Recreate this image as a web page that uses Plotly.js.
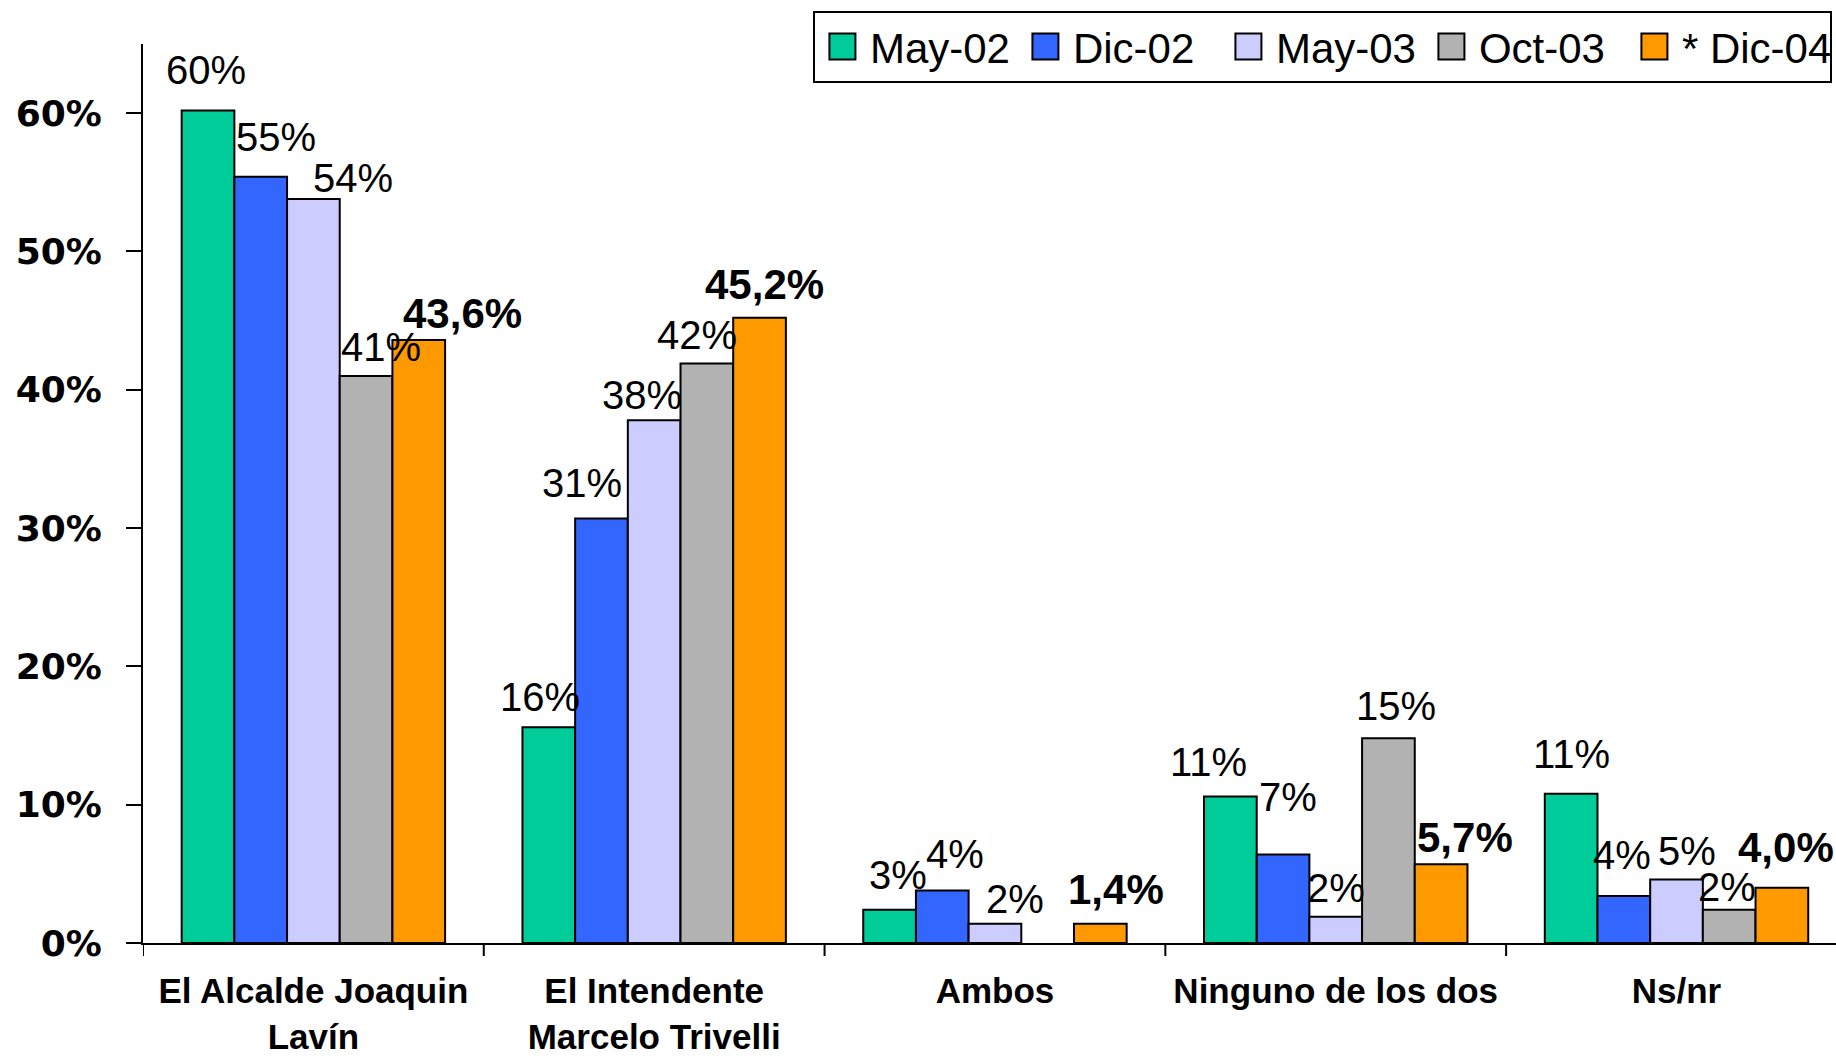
<!DOCTYPE html>
<html>
<head>
<meta charset="utf-8">
<script src="https://cdn.plot.ly/plotly-3.0.1.min.js"></script>
<style>
  html, body { margin: 0; padding: 0; background: #ffffff; }
  #chart { width: 1836px; height: 1056px; }
</style>
</head>
<body>
<div id="chart"></div>
<script>
// ---- Data ----
const categories = ["El Alcalde Joaquin<br>Lavín", "El Intendente<br>Marcelo Trivelli", "Ambos", "Ninguno de los dos", "Ns/nr"];
const seriesNames = ["May-02", "Dic-02", "May-03", "Oct-03", "* Dic-04"];

const may02 = [60.2, 15.6, 2.4, 10.6, 10.8];
const dic02 = [55.4, 30.7, 3.8, 6.4, 3.4];
const may03 = [53.8, 37.8, 1.4, 1.9, 4.6];
const oct03 = [41.0, 41.9, null, 14.8, 2.4];
const dic04 = [43.6, 45.2, 1.4, 5.7, 4.0];

const may02Labels = ["60%", "16%", "3%", "11%", "11%"];
const dic02Labels = ["55%", "31%", "4%", "7%", "4%"];
const may03Labels = ["54%", "38%", "2%", "2%", "5%"];
const oct03Labels = ["41%", "42%", "", "15%", "2%"];
const dic04Labels = ["43,6%", "45,2%", "1,4%", "5,7%", "4,0%"];

const yTickValues = [0, 10, 20, 30, 40, 50, 60];

// ---- Styling ----
const colors = ["#00CC99", "#3366FF", "#CCCCFF", "#B2B2B2", "#FF9900"];
const boldLabels = [false, false, false, false, true];
// manual label nudges (px) relative to the top-centre of each bar, as in the original chart
const nudgeX = [
  [-2, -9, 8, -22, 0],
  [15, -19, 13, 5, -2],
  [40, -12, 20, 0, 10],
  [15, -10, 0, 8, -2],
  [44, 5, 16, 24, 4]
];
const nudgeY = [
  [40, 30, 35, 34, 40],
  [40, 35, 36, 57, 41],
  [21, 25, 25, 29, 28],
  [29, 28, 0, 32, 23],
  [26, 33, 34, 27, 40]
];

const values = [may02, dic02, may03, oct03, dic04];
const labels = [may02Labels, dic02Labels, may03Labels, oct03Labels, dic04Labels];
const bargap = 0.227;
const nSeries = values.length;
const barW = (1 - bargap) / nSeries;

const traces = values.map((vals, i) => ({
  type: "bar",
  name: seriesNames[i],
  x: categories.map((c, j) => j),
  y: vals,
  marker: { color: colors[i], line: { color: "#000000", width: 2 } },
  hoverinfo: "skip"
}));

const annotations = [];
values.forEach((vals, i) => {
  vals.forEach((v, j) => {
    if (v === null || labels[i][j] === "") return;
    annotations.push({
      xref: "x", yref: "y",
      x: j + (i - (nSeries - 1) / 2) * barW,
      y: v,
      text: labels[i][j],
      showarrow: false,
      xanchor: "center", yanchor: "middle",
      xshift: nudgeX[i][j],
      yshift: nudgeY[i][j],
      font: {
        family: "Liberation Sans, Arial, sans-serif",
        size: boldLabels[i] ? 42 : 40,
        color: "#000000",
        weight: boldLabels[i] ? 700 : 400
      }
    });
  });
});

const layout = {
  width: 1836,
  height: 1056,
  paper_bgcolor: "#ffffff",
  plot_bgcolor: "#ffffff",
  margin: { l: 143, r: 0, t: 44, b: 113, pad: 0 },
  barmode: "group",
  bargap: bargap,
  bargroupgap: 0,
  showlegend: true,
  legend: {
    orientation: "h",
    x: 0.3957, xanchor: "left",
    y: 1.037, yanchor: "top",
    bgcolor: "#ffffff",
    bordercolor: "#000000",
    borderwidth: 2,
    itemwidth: 45,
    entrywidthmode: "pixels",
    entrywidth: 143,
    font: { family: "Liberation Sans, Arial, sans-serif", size: 42, color: "#000000" },
    traceorder: "normal"
  },
  xaxis: {
    type: "linear",
    range: [-0.5, 4.468],
    tickmode: "array",
    tickvals: categories.map((c, j) => j),
    ticktext: categories,
    showline: true, linecolor: "#000000", linewidth: 2,
    showgrid: false, zeroline: false,
    ticks: "",
    tickfont: { family: "Liberation Sans, Arial, sans-serif", size: 35, color: "#000000", weight: 700 },
    ticklabelstandoff: 16,
    fixedrange: true
  },
  yaxis: {
    range: [0, 65],
    tickmode: "array",
    tickvals: yTickValues,
    ticktext: yTickValues.map(v => v + "%"),
    showline: true, linecolor: "#000000", linewidth: 2,
    showgrid: false, zeroline: false,
    ticks: "outside", ticklen: 15, tickwidth: 2, tickcolor: "#000000",
    tickfont: { family: "DejaVu Sans, sans-serif", size: 36, color: "#000000", weight: 700 },
    ticklabelstandoff: 17,
    fixedrange: true
  },
  shapes: [],
  annotations: annotations
};

// category boundary tick marks on the x axis (between groups)
for (let j = 0; j < categories.length; j++) {
  layout.shapes.push({
    type: "line", xref: "x", yref: "paper",
    x0: j - 0.5, x1: j - 0.5, y0: 0, y1: -0.0145,
    line: { color: "#000000", width: 2 }
  });
}

Plotly.newPlot("chart", traces, layout, { displayModeBar: false, staticPlot: true }).then(() => {
  document.querySelectorAll(".legend .legendpoints path").forEach(p => {
    p.setAttribute("d", "M13,13H-13V-13H13Z");
  });
});
</script>
</body>
</html>
